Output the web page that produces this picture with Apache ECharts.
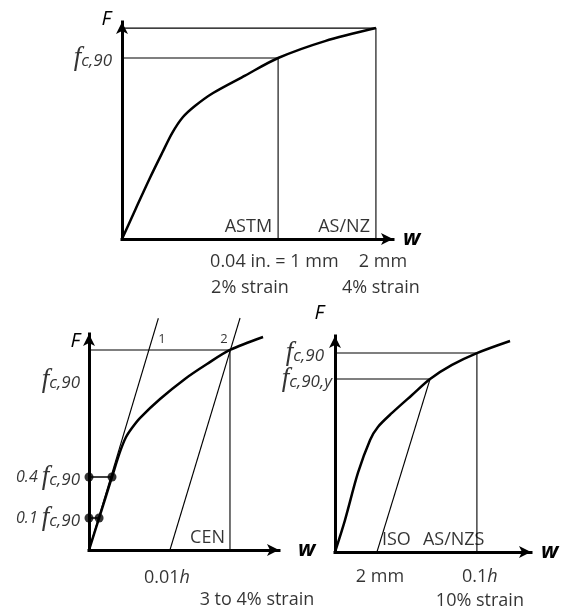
<!DOCTYPE html>
<html><head><meta charset="utf-8">
<script src="https://cdn.jsdelivr.net/npm/echarts@6/dist/echarts.min.js"></script>
<style>html,body{margin:0;padding:0;background:#fff}#c{width:564px;height:611px}</style>
</head><body><div id="c"></div>
<script>
// ---------- data (schematic units, 0-100 on every axis) ----------
// Panel 1: ASTM / AS/NZ
const p1Curve = [[0,0],[5.2,14.3],[10.3,28.1],[14.8,39.6],[18.5,48.8],[22.5,56.2],[26.9,61.3],[33.6,67.3],[45.4,75.3],[57.6,83.4],[74.9,91.2],[93.7,97.2]];
const p1Astm = [57.6, 83.4];
const p1AsNz = [93.7, 97.2];
const p1TickText = ['0.04 in. = 1 mm', '2 mm'];
const p1StrainText = ['2% strain', '4% strain'];
const p1Codes = ['ASTM', 'AS/NZ'];

// Panel 2: CEN
const p2Curve = [[0,0],[5.3,14.8],[12.1,33.8],[16.3,45.4],[19.5,52.3],[22.6,56.5],[26.8,61.1],[37.4,69.9],[50.5,79.2],[62.1,86.1],[74.2,92.6],[91.6,98.6]];
const p2Line1 = [[0,0],[36.5,107.3]];
const p2Line2 = [[42.6,0],[79.5,107.4]];
const p2Peak = [74.2, 92.6];
const p2Dots = [[0,33.8],[12.1,33.8],[0,14.8],[5.3,14.8]];
const p2LineNames = ['1', '2'];

// Panel 3: ISO / AS/NZS
const p3Curve = [[0,0],[5.1,14.8],[11.7,36.6],[17.9,51.9],[21.9,57.9],[29.1,64.4],[39.3,72.7],[48.5,80.1],[59.7,86.6],[72.4,92.1],[89.3,97.7]];
const p3Fc90 = [72.4, 92.1];
const p3Fc90y = [48.5, 80.1];
const p3IsoFoot = [21.4, 0];

// ---------- styling ----------
const FONT = 'Open Sans';
const grids = [
  {left:122, top:22, width:271, height:217},
  {left:89, top:334, width:190, height:216},
  {left:335, top:336, width:196, height:216}
];
const wGap = [10, 19, 10];
const fGap = [3, -7, 23];
const fPad = [11, 9, 11];

const rich = {
  f: {fontFamily:'Liberation Serif', fontStyle:'italic', fontSize:27, color:'#000'},
  s: {fontFamily:FONT, fontStyle:'italic', fontSize:17, color:'#000', padding:[7,0,0,0]},
  p: {fontFamily:FONT, fontStyle:'italic', fontSize:16, color:'#000'},
  r: {fontFamily:FONT, fontSize:18, color:'#000'},
  i: {fontFamily:FONT, fontStyle:'italic', fontSize:18, color:'#000'},
  n: {fontFamily:FONT, fontSize:13, color:'#000'}
};
const fc = sub => '{f|f}{s|' + sub + '}';

function lineS(g, data, width, smooth) {
  return {type:'line', xAxisIndex:g, yAxisIndex:g, data:data, symbol:'none', showSymbol:false,
    smooth: smooth || false, clip:false, silent:true, animation:false,
    lineStyle:{color:'#000', width:width}};
}
function note(pt, text, align, dx, dy) {
  return {value:pt, label:{show:true, formatter:text, position:'inside', align:align,
    verticalAlign:'middle', offset:[dx, dy]}};
}
function notes(g, items) {
  return {type:'scatter', xAxisIndex:g, yAxisIndex:g, data:items, symbolSize:1, clip:false,
    silent:true, animation:false, itemStyle:{color:'rgba(0,0,0,0)'},
    label:{show:true, rich:rich, fontFamily:FONT, fontSize:18, color:'#000'}, z:5};
}

const xAxes = grids.map((g, i) => ({gridIndex:i, type:'value', min:0, max:100,
  axisLine:{show:true, onZero:false, symbol:['none','arrow'], symbolSize:[9,12],
    lineStyle:{color:'#000', width:3, cap:'square'}},
  axisTick:{show:false}, axisLabel:{show:false}, splitLine:{show:false},
  name:'w', nameLocation:'end', nameGap:wGap[i],
  nameTextStyle:{fontFamily:FONT, fontSize:22, fontWeight:'bold', fontStyle:'italic', color:'#000', verticalAlign:'middle'}}));
const yAxes = grids.map((g, i) => ({gridIndex:i, type:'value', min:0, max:100,
  axisLine:{show:true, onZero:false, symbol:['none','arrow'], symbolSize:[9,12],
    lineStyle:{color:'#000', width:3, cap:'square'}},
  axisTick:{show:false}, axisLabel:{show:false}, splitLine:{show:false},
  name:'F', nameLocation:'end', nameGap:fGap[i],
  nameTextStyle:{fontFamily:FONT, fontSize:20, fontStyle:'italic', color:'#000', align:'right',
    verticalAlign:'middle', padding:[0, fPad[i], 0, 0]}}));

const series = [
  // panel 1
  lineS(0, [[0,p1AsNz[1]],p1AsNz,[p1AsNz[0],0]], 1.1),
  lineS(0, [[0,p1Astm[1]],p1Astm,[p1Astm[0],0]], 1.1),
  lineS(0, p1Curve, 2.5, 0.3),
  notes(0, [
    note([0,p1Astm[1]], fc('c,90'), 'right', -10, 0),
    note([p1Astm[0],0], p1Codes[0], 'right', -6, -12),
    note([p1AsNz[0],0], p1Codes[1], 'right', -6, -12),
    note([p1Astm[0],0], p1TickText[0], 'left', -68, 23),
    note([p1AsNz[0],0], p1TickText[1], 'center', 7, 23),
    note([p1Astm[0],0], p1StrainText[0], 'left', -67, 49),
    note([p1AsNz[0],0], p1StrainText[1], 'left', -34, 49)
  ]),
  // panel 2
  lineS(1, [[0,p2Peak[1]],p2Peak,[p2Peak[0],0]], 1.1),
  lineS(1, p2Line1, 1.1),
  lineS(1, p2Line2, 1.1),
  lineS(1, [p2Dots[0],p2Dots[1]], 1.5),
  lineS(1, [p2Dots[2],p2Dots[3]], 1.5),
  lineS(1, p2Curve, 2.5, 0.3),
  {type:'scatter', xAxisIndex:1, yAxisIndex:1, data:p2Dots, symbolSize:9, silent:true,
    animation:false, clip:false, itemStyle:{color:'#000'}, z:4},
  notes(1, [
    note([0,p2Peak[1]], fc('c,90'), 'right', -9, 30),
    note(p2Dots[0], '{p|0.4 }' + fc('c,90'), 'right', -9, 0),
    note(p2Dots[2], '{p|0.1 }' + fc('c,90'), 'right', -9, 0),
    note([38.4, p2Peak[1]], '{n|' + p2LineNames[0] + '}', 'center', 0, -11),
    note([71.0, p2Peak[1]], '{n|' + p2LineNames[1] + '}', 'center', 0, -11),
    note([p2Peak[0],0], 'CEN', 'right', -5, -12),
    note(p2Line2[0], '{r|0.01}{i|h}', 'center', -3, 28),
    note([p2Peak[0],0], '3 to 4% strain', 'center', 27, 50)
  ]),
  // panel 3
  lineS(2, [[0,p3Fc90[1]],p3Fc90,[p3Fc90[0],0]], 1.1),
  lineS(2, [[0,p3Fc90y[1]],p3Fc90y], 1.1),
  lineS(2, [p3IsoFoot,p3Fc90y], 1.1),
  lineS(2, p3Curve, 2.5, 0.3),
  notes(2, [
    note([0,p3Fc90[1]], fc('c,90'), 'right', -11, 0),
    note([0,p3Fc90y[1]], fc('c,90,y'), 'right', -3, 0),
    note(p3IsoFoot, 'ISO', 'left', 5, -12),
    note([p3Fc90[0],0], 'AS/NZS', 'left', -54, -12),
    note(p3IsoFoot, '2 mm', 'center', 3, 25),
    note([p3Fc90[0],0], '{r|0.1}{i|h}', 'center', 3, 25),
    note([p3Fc90[0],0], '10% strain', 'center', 3, 49)
  ])
];

const chart = echarts.init(document.getElementById('c'), null, {renderer:'canvas'});
chart.setOption({animation:false, backgroundColor:'#fff', grid:grids, xAxis:xAxes, yAxis:yAxes, series:series});
</script></body></html>
